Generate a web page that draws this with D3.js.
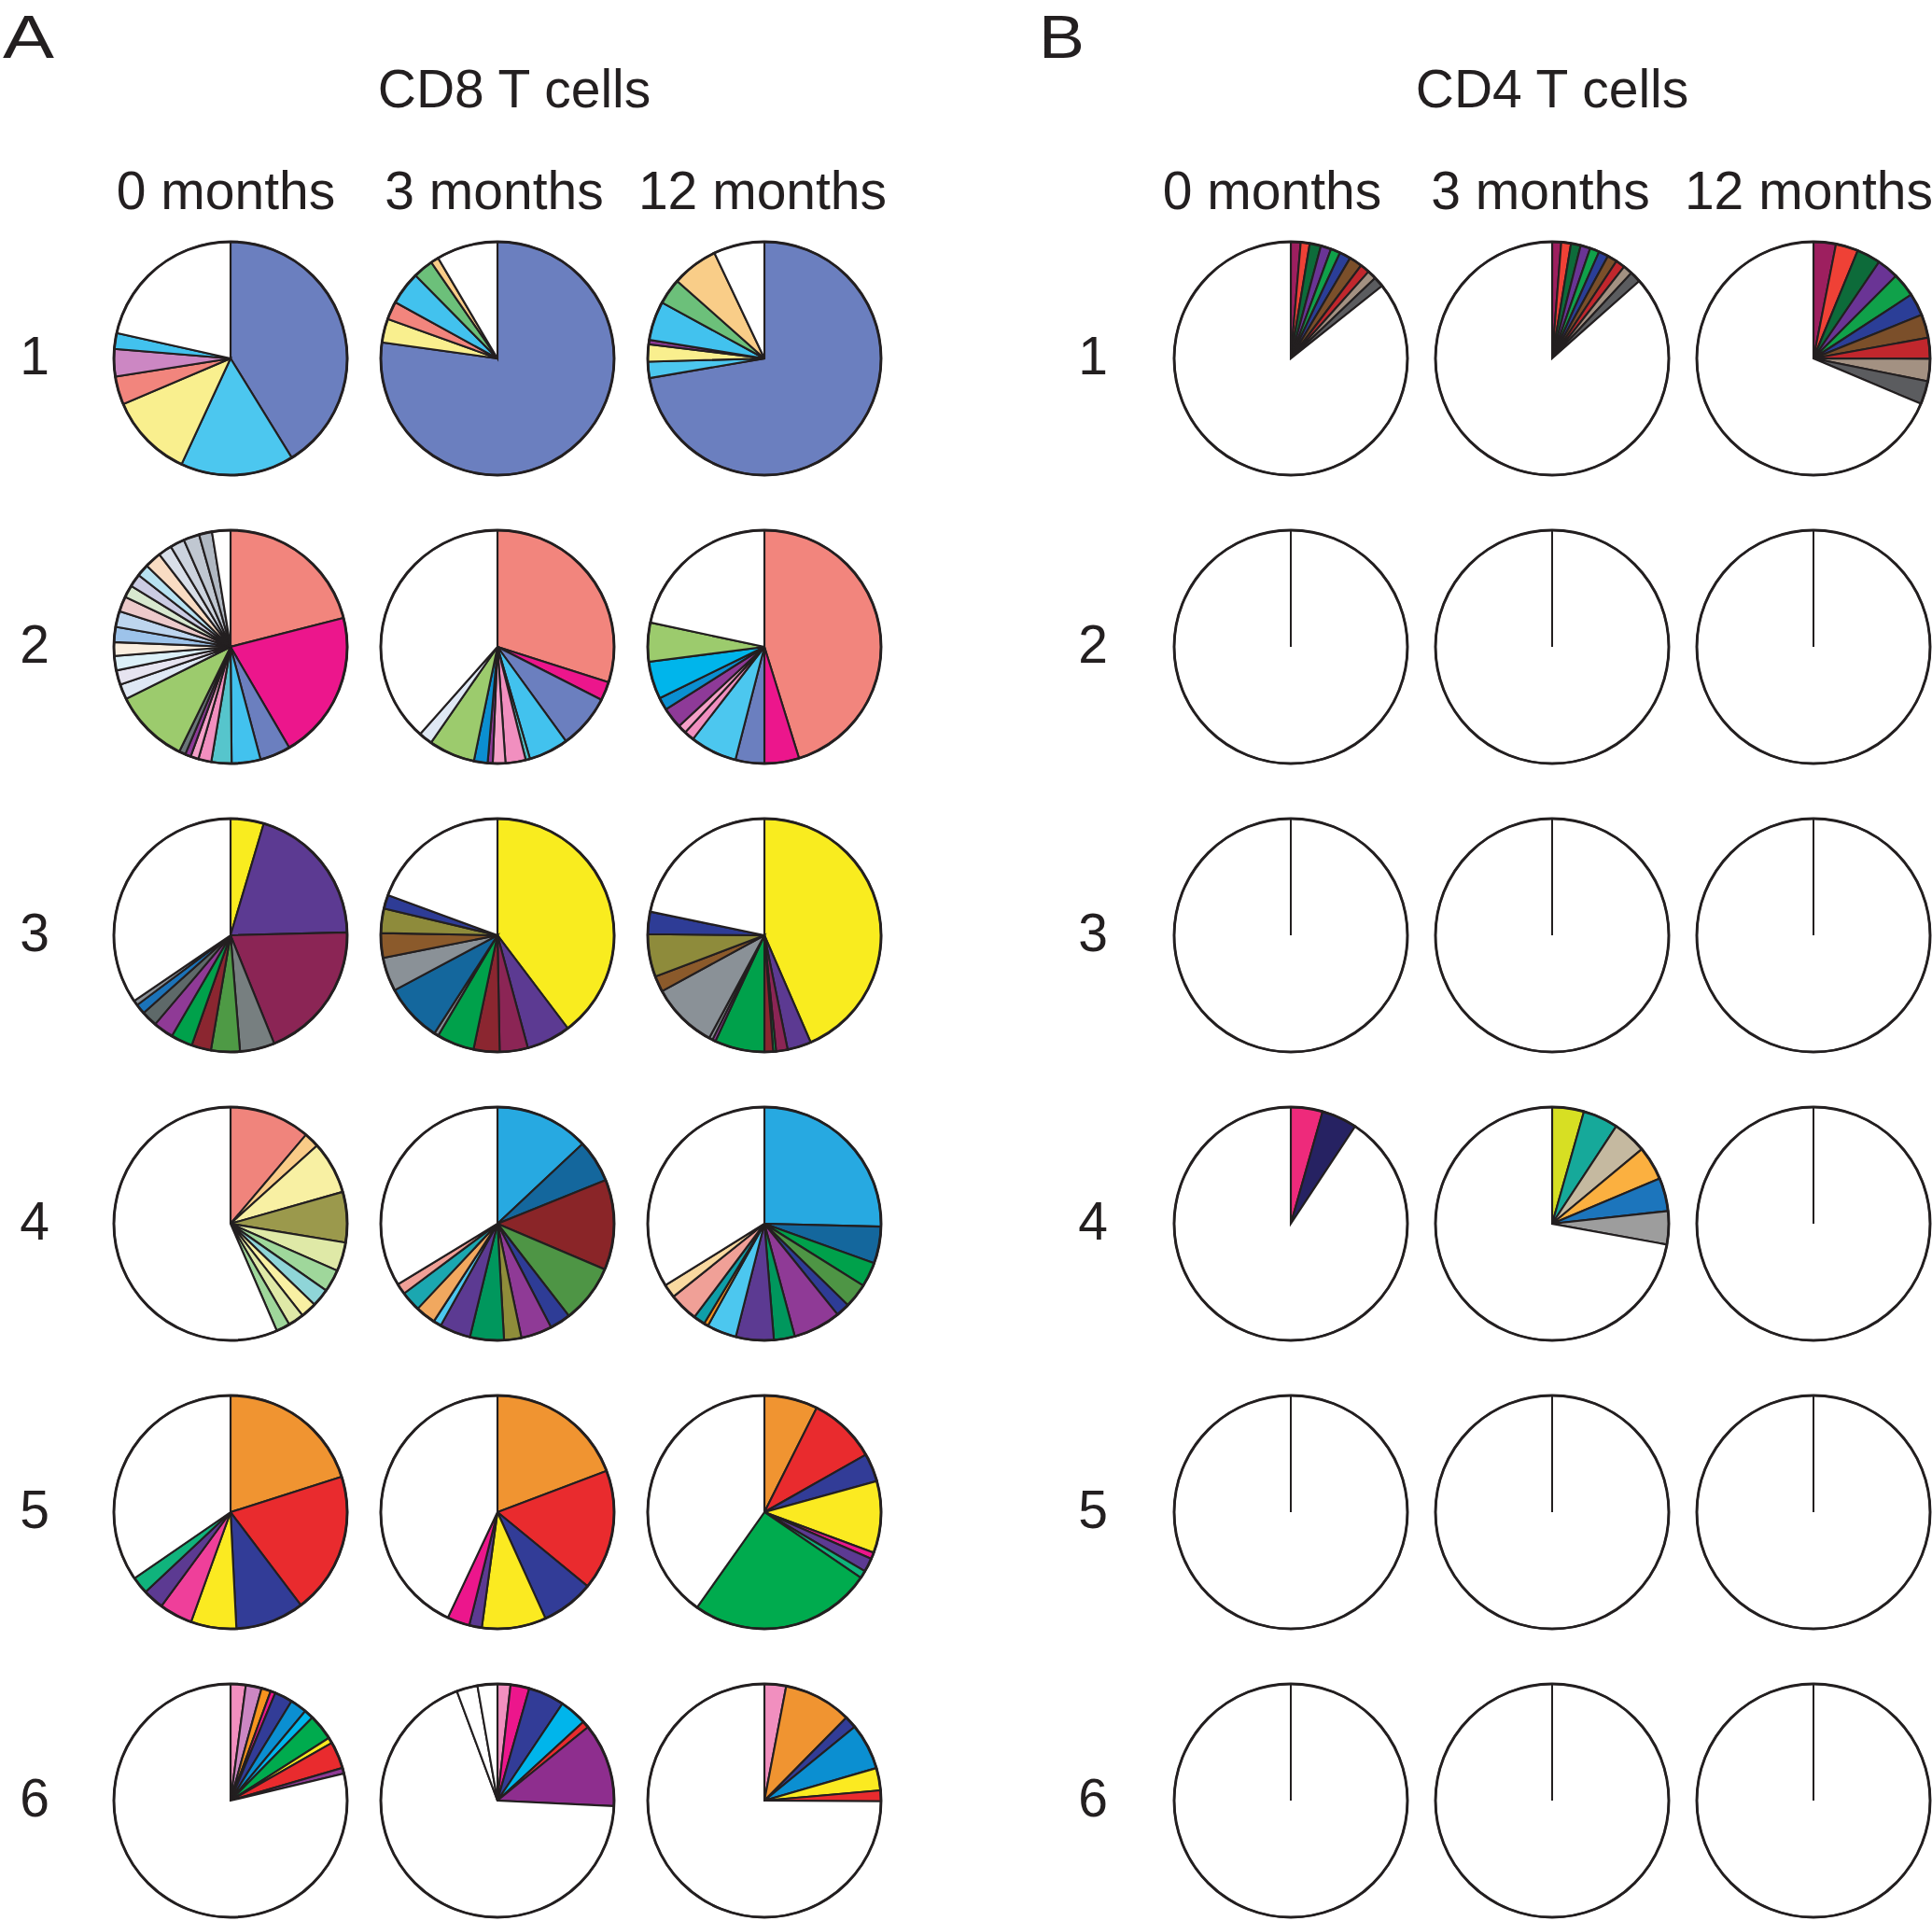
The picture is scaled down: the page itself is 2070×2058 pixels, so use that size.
<!DOCTYPE html>
<html><head><meta charset="utf-8">
<script src="https://cdn.jsdelivr.net/npm/d3@7"></script>
<style>
body{margin:0;background:#fff}
text{font-family:"Liberation Sans",Arial,sans-serif;fill:#231f20}
</style>
</head><body>
<svg id="chart" width="2070" height="2058"></svg>
<script>
// ---------- categories ----------
const timepoints = ["0 months", "3 months", "12 months"];
const patients = ["1", "2", "3", "4", "5", "6"];
const panelTitles = ["CD8 T cells", "CD4 T cells"];
const panelLetters = ["A", "B"];

// ---------- CD8 clone fractions (clockwise from 12 o'clock; rest = white) ----------
const cd8_1_0  = [0.412, 0.157, 0.117, 0.039, 0.038, 0.022];
const cd8_1_0c = ["slate", "sky", "yellowPale", "salmon", "orchid", "cyan"];
const cd8_1_3  = [0.772, 0.033, 0.025, 0.046, 0.028, 0.011];
const cd8_1_3c = ["slate", "yellowPale", "salmon", "cyan", "greenMid", "peachOrange"];
const cd8_1_12  = [0.723, 0.0225, 0.024, 0.006, 0.054, 0.036, 0.064];
const cd8_1_12c = ["slate", "sky", "yellowPale", "purple", "cyan", "greenMid", "peachOrange"];

const cd8_2_0  = [0.210, 0.206, 0.0425, 0.040, 0.028, 0.018, 0.011, 0.008, 0.009, 0.104,
                  0.021, 0.020, 0.020, 0.019, 0.021, 0.022, 0.021, 0.017, 0.018, 0.017, 0.023, 0.019, 0.020, 0.022, 0.018];
const cd8_2_0c = ["salmon", "magenta", "slate", "cyan", "teal", "pink", "pink2", "purple", "slateGrey", "greenLight",
                  "paleBlue", "paleLav", "paleCyan", "cream", "midBlue", "lightBlue", "palePink", "paleGreen", "lavender", "skyPale", "peachPale", "greyBlue1", "greyBlue2", "greyBlue3", "greyBlue4"];
const cd8_2_3  = [0.299, 0.026, 0.075, 0.055, 0.006, 0.028, 0.0175, 0.007, 0.019, 0.064, 0.019];
const cd8_2_3c = ["salmon", "magenta", "slate", "cyan", "teal", "pink", "pink2", "purple", "blueMid", "greenLight", "paleBlue"];
const cd8_2_12  = [0.452, 0.048, 0.040, 0.065, 0.014, 0.012, 0.029, 0.0175, 0.052, 0.054];
const cd8_2_12c = ["salmon", "magenta", "slate", "sky", "pink", "pink2", "purple", "blueMid", "cyanBright", "greenLight"];

const cd8_3_0  = [0.046, 0.200, 0.193, 0.048, 0.040, 0.027, 0.030, 0.028, 0.022, 0.014, 0.007];
const cd8_3_0c = ["yellow", "violet", "maroon", "grey", "greenDark", "darkRed", "green", "purple2", "darkSlate", "blueDeep", "greyBlue"];
const cd8_3_3  = [0.397, 0.061, 0.039, 0.036, 0.052, 0.006, 0.081, 0.047, 0.034, 0.034, 0.019];
const cd8_3_3c = ["yellow", "violet", "maroon", "darkRed", "green", "greyBlue", "blueOcean", "greyBlue", "brown", "olive", "navy"];
const cd8_3_12  = [0.435, 0.033, 0.016, 0.004, 0.012, 0.069, 0.0045, 0.005, 0.092, 0.022, 0.059, 0.031];
const cd8_3_12c = ["yellow", "violet", "maroon", "green", "darkRed", "green", "purple2", "greyBlue", "greyBlue", "brown", "olive", "navy"];

const cd8_4_0  = [0.112, 0.021, 0.073, 0.070, 0.040, 0.031, 0.025, 0.022, 0.022, 0.019];
const cd8_4_0c = ["salmon2", "peach", "yellowLight", "olive2", "lime", "greenPale", "cyanPale", "yellowLight", "lime", "greenPale"];
const cd8_4_3  = [0.130, 0.059, 0.125, 0.081, 0.029, 0.043, 0.024, 0.047, 0.043, 0.011, 0.028, 0.028, 0.015];
const cd8_4_3c = ["blueSky", "blueOcean", "darkRed2", "green3", "navy", "purple2", "olive3", "green4", "violet", "sky", "orangeLight", "teal2", "pinkSalmon"];
const cd8_4_12  = [0.254, 0.051, 0.034, 0.034, 0.019, 0.066, 0.029, 0.0525, 0.041, 0.006, 0.016, 0.040, 0.019];
const cd8_4_12c = ["blueSky", "blueOcean", "green", "green3", "navy", "purple2", "green4", "violet", "sky", "orange", "teal3", "pinkSalmon", "peachLight"];

const cd8_5_0  = [0.201, 0.196, 0.095, 0.063, 0.046, 0.029, 0.024];
const cd8_5_0c = ["orange2", "red", "navy2", "yellow2", "pinkHot", "violet", "tealGreen"];
const cd8_5_3  = [0.1925, 0.167, 0.073, 0.089, 0.0175, 0.031];
const cd8_5_3c = ["orange2", "red", "navy2", "yellow2", "violet", "magenta"];
const cd8_5_12  = [0.074, 0.094, 0.039, 0.0995, 0.009, 0.019, 0.0105, 0.253];
const cd8_5_12c = ["orange2", "red", "navy2", "yellow2", "magenta", "violet", "tealGreen", "green5"];

const cd8_6_0  = [0.021, 0.022, 0.013, 0.0067, 0.025, 0.023, 0.013, 0.036, 0.008, 0.037, 0.008];
const cd8_6_0c = ["pink", "orchid", "orange", "magenta", "navy2", "blueMid", "cyanBright", "green5", "yellow2", "red", "purple2"];
const cd8_6_3  = [0.018, 0.026, 0.050, 0.038, 0.0095, 0.116, 0.686, 0.029];
const cd8_6_3c = ["pink", "magenta", "navy2", "cyanBright", "red", "purple3", "white", "white"];
const cd8_6_12  = [0.030, 0.094, 0.017, 0.064, 0.031, 0.015];
const cd8_6_12c = ["pink", "orange2", "navy2", "blueMid", "yellow2", "red"];

// ---------- CD4 clone fractions ----------
const cd4_1_0  = [0.0136, 0.0125, 0.0156, 0.0144, 0.0133, 0.0156, 0.018, 0.0133, 0.0125, 0.0144];
const cd4_1_0c = ["b1", "b2", "b3", "b4", "b5", "b6", "b7", "b8", "b9", "b10"];
const cd4_1_3  = [0.0125, 0.0135, 0.0135, 0.0135, 0.013, 0.0135, 0.0135, 0.013, 0.013, 0.0155];
const cd4_1_3c = ["b1", "b2", "b3", "b4", "b5", "b6", "b7", "b8", "b9", "b10"];
const cd4_1_12  = [0.031, 0.031, 0.033, 0.030, 0.033, 0.031, 0.0325, 0.029, 0.031, 0.032];
const cd4_1_12c = ["b1", "b2", "b3", "b4", "b5", "b6", "b7", "b8", "b9", "b10"];
const cd4_4_0  = [0.044, 0.049];
const cd4_4_0c = ["pinkB", "indigo"];
const cd4_4_3  = [0.044, 0.0486, 0.047, 0.047, 0.046, 0.046];
const cd4_4_3c = ["limeB", "tealB", "tan", "orangeB", "blueB", "greyB"];
const empty = [];

// ---------- clone colours ----------
const palette = {
  white: "#ffffff",
  slate: "#6b7fbf", sky: "#4cc7ef", cyan: "#42c2ee", yellowPale: "#f9ef8e", salmon: "#f2857d",
  orchid: "#cc87c3", greenMid: "#6cc07a", peachOrange: "#f9cd88", magenta: "#ec168c", teal: "#56c5cc",
  pink: "#f18fbf", pink2: "#f4a0c8", purple: "#8e3a98", slateGrey: "#6a7678", greenLight: "#9ccb6d",
  blueMid: "#0b8fd1", cyanBright: "#00b5eb",
  paleBlue: "#dfe8f4", paleLav: "#e6e4f0", paleCyan: "#dcf0f8", cream: "#faeedf", midBlue: "#9dc3ea",
  lightBlue: "#bdd5ee", palePink: "#eccacb", paleGreen: "#d8e8cf", lavender: "#cbcce3", skyPale: "#b8e2f1",
  peachPale: "#f9dcc3", greyBlue1: "#d9dfe9", greyBlue2: "#ccd3de", greyBlue3: "#c0c7d1", greyBlue4: "#b0b8c2",
  yellow: "#f9ec1f", violet: "#5c3a92", maroon: "#8b2555", grey: "#777f80", greenDark: "#4e9a45",
  darkRed: "#8b2630", green: "#00a14b", purple2: "#8f3a96", darkSlate: "#5e6969", blueDeep: "#1b73b9",
  greyBlue: "#8a9197", brown: "#8b5a2b", olive: "#8e8b3b", navy: "#2e3c96", blueOcean: "#14679d",
  salmon2: "#f0847c", peach: "#f9cc88", yellowLight: "#f8f0a3", olive2: "#9b994c", lime: "#dfe9a7",
  greenPale: "#9fd79b", cyanPale: "#8fd5d8", blueSky: "#27a9e1", darkRed2: "#8a2528", green3: "#4e9545",
  green4: "#00975d", olive3: "#8f8d3a", orangeLight: "#f1a85f", teal2: "#1ba7b0", pinkSalmon: "#f0a097",
  orange: "#f7941e", teal3: "#0f9ea8", peachLight: "#f9d9a0",
  orange2: "#f09431", red: "#e92b2e", navy2: "#323c97", yellow2: "#fbea21", pinkHot: "#ef3f9a",
  tealGreen: "#10b37c", green5: "#00ab4e", purple3: "#8e2e8e",
  b1: "#9d1f5f", b2: "#ef4136", b3: "#0d6b3a", b4: "#6a3495", b5: "#10a14a", b6: "#2b3e97",
  b7: "#7b4f2a", b8: "#c1272d", b9: "#a39182", b10: "#5b5c5f",
  pinkB: "#ee2a7b", indigo: "#262262", limeB: "#d7df23", tealB: "#16a99a", tan: "#c5b9a0",
  orangeB: "#fbb040", blueB: "#1c75bc", greyB: "#9d9d9d"
};

const cd8Grid = [
  [[cd8_1_0, cd8_1_0c], [cd8_1_3, cd8_1_3c], [cd8_1_12, cd8_1_12c]],
  [[cd8_2_0, cd8_2_0c], [cd8_2_3, cd8_2_3c], [cd8_2_12, cd8_2_12c]],
  [[cd8_3_0, cd8_3_0c], [cd8_3_3, cd8_3_3c], [cd8_3_12, cd8_3_12c]],
  [[cd8_4_0, cd8_4_0c], [cd8_4_3, cd8_4_3c], [cd8_4_12, cd8_4_12c]],
  [[cd8_5_0, cd8_5_0c], [cd8_5_3, cd8_5_3c], [cd8_5_12, cd8_5_12c]],
  [[cd8_6_0, cd8_6_0c], [cd8_6_3, cd8_6_3c], [cd8_6_12, cd8_6_12c]]
];
const cd4Grid = [
  [[cd4_1_0, cd4_1_0c], [cd4_1_3, cd4_1_3c], [cd4_1_12, cd4_1_12c]],
  [[empty, empty], [empty, empty], [empty, empty]],
  [[empty, empty], [empty, empty], [empty, empty]],
  [[cd4_4_0, cd4_4_0c], [cd4_4_3, cd4_4_3c], [empty, empty]],
  [[empty, empty], [empty, empty], [empty, empty]],
  [[empty, empty], [empty, empty], [empty, empty]]
];

// ---------- layout ----------
const svg = d3.select("#chart");
const R = 125;
const ink = "#231f20";
const yRow = d3.scalePoint().domain(patients).range([384, 1929]);
const panels = [
  { grid: cd8Grid, x: d3.scalePoint().domain(timepoints).range([247, 819]),
    xLab: d3.scalePoint().domain(timepoints).range([242, 817]),
    titleX: 551, letterX: 3, rowLabX: 37 },
  { grid: cd4Grid, x: d3.scalePoint().domain(timepoints).range([1383, 1943]),
    xLab: d3.scalePoint().domain(timepoints).range([1363, 1938]),
    titleX: 1663, letterX: 1113, rowLabX: 1171 }
];

const pie = d3.pie().sort(null).value(d => d.v);
const arc = d3.arc().innerRadius(0).outerRadius(R);

panels.forEach((p, pi) => {
  svg.append("text").attr("x", p.letterX).attr("y", 62)
    .attr("font-size", 64).attr("textLength", pi === 0 ? 55 : 49).attr("lengthAdjust", "spacingAndGlyphs")
    .text(panelLetters[pi]);
  svg.append("text").attr("x", p.titleX).attr("y", 115).attr("text-anchor", "middle")
    .attr("font-size", 57).text(panelTitles[pi]);
  timepoints.forEach(t => {
    svg.append("text").attr("x", p.xLab(t)).attr("y", 224).attr("text-anchor", "middle")
      .attr("font-size", 57).text(t);
  });
  patients.forEach((pat, ri) => {
    svg.append("text").attr("x", p.rowLabX).attr("y", yRow(pat) + 17).attr("text-anchor", "middle")
      .attr("font-size", 57).text(pat);
    timepoints.forEach((t, ci) => {
      const [vals, clones] = p.grid[ri][ci];
      const slices = vals.map((v, i) => ({ v, c: palette[clones[i]] }));
      const rest = Math.max(0, 1 - d3.sum(vals));
      slices.push({ v: rest, c: "#ffffff" });
      const g = svg.append("g").attr("transform", `translate(${p.x(t)},${yRow(pat)})`);
      g.selectAll("path").data(pie(slices)).join("path")
        .attr("d", arc).attr("fill", d => d.data.c)
        .attr("stroke", ink).attr("stroke-width", 2.1);
      g.append("line").attr("x1", 0).attr("y1", 0).attr("x2", 0).attr("y2", -R)
        .attr("stroke", ink).attr("stroke-width", 2);
      g.append("circle").attr("r", R).attr("fill", "none").attr("stroke", ink).attr("stroke-width", 2.9);
    });
  });
});
</script>
</body></html>
